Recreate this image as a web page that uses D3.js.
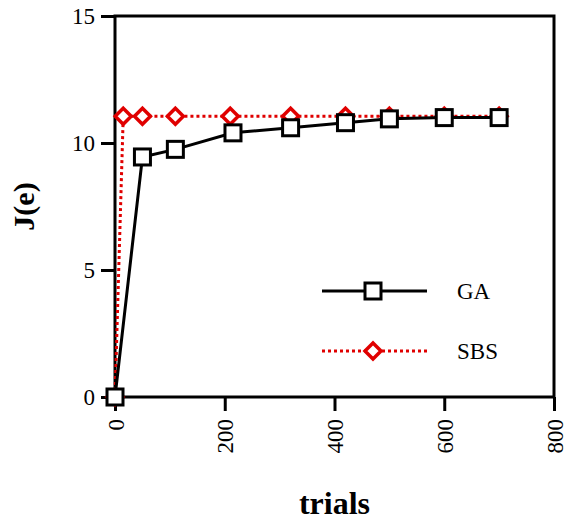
<!DOCTYPE html>
<html>
<head>
<meta charset="utf-8">
<script src="https://cdn.jsdelivr.net/npm/d3@7"></script>
<style>
	body { margin: 0; background: #fff; }
	text { font-family: "Liberation Serif", "DejaVu Serif", serif; }
</style>
</head>
<body>
<div id="chart"></div>
<script>
var gaTrials = [0, 50, 110, 215, 320, 420, 500, 600, 700];
var gaValues = [0, 9.45, 9.75, 10.4, 10.6, 10.8, 10.95, 11.0, 11.0];
var sbsTrials = [0, 15, 50, 110, 210, 320, 420, 500, 600, 700];
var sbsValues = [0, 11.05, 11.05, 11.05, 11.05, 11.05, 11.05, 11.05, 11.05, 11.05];
var xTicks = [0, 200, 400, 600, 800];
var yTicks = [0, 5, 10, 15];
var seriesNames = ['GA', 'SBS'];

var width = 569, height = 520;
var margin = {top: 16, right: 15, bottom: 123, left: 115};
var red = '#e00000';

var svg = d3.select('#chart').append('svg')
	.attr('width', width)
	.attr('height', height);

var x = d3.scaleLinear().domain([0, 800]).range([margin.left, width - margin.right]);
var y = d3.scaleLinear().domain([0, 15]).range([height - margin.bottom, margin.top]);

// frame
svg.append('rect')
	.attr('x', x(0))
	.attr('y', y(15))
	.attr('width', x(800) - x(0))
	.attr('height', y(0) - y(15))
	.attr('fill', 'none')
	.attr('stroke', '#000')
	.attr('stroke-width', 3);

var xAxisG = svg.append('g')
	.attr('transform', 'translate(0,' + y(0) + ')')
	.call(d3.axisBottom(x).tickValues(xTicks).tickSize(14).tickSizeOuter(0));

xAxisG.selectAll('text')
	.attr('transform', 'rotate(-90)')
	.attr('text-anchor', 'end')
	.attr('x', -22)
	.attr('y', 0)
	.attr('dy', '0.35em');

var yAxisG = svg.append('g')
	.attr('transform', 'translate(' + x(0) + ',0)')
	.call(d3.axisLeft(y).tickValues(yTicks).tickSize(14).tickSizeOuter(0));

yAxisG.selectAll('text').attr('x', -20);

svg.selectAll('.domain').remove();
svg.selectAll('.tick line').attr('stroke', '#000').attr('stroke-width', 3);
svg.selectAll('.tick text')
	.attr('fill', '#000')
	.style('font-family', '"Liberation Serif", serif')
	.style('font-size', '23px');

// axis titles
svg.append('text')
	.attr('transform', 'translate(34,' + ((y(0) + y(15)) / 2) + ') rotate(-90)')
	.attr('text-anchor', 'middle')
	.style('font-size', '30px')
	.style('font-weight', 'bold')
	.text('J(e)');

svg.append('text')
	.attr('x', (x(0) + x(800)) / 2)
	.attr('y', 514)
	.attr('text-anchor', 'middle')
	.style('font-size', '32px')
	.style('font-weight', 'bold')
	.text('trials');

var line = d3.line()
	.x(function(d) { return x(d[0]); })
	.y(function(d) { return y(d[1]); });

var sbsData = sbsTrials.map(function(t, i) { return [t, sbsValues[i]]; });
var gaData = gaTrials.map(function(t, i) { return [t, gaValues[i]]; });

function diamond(g, cx, cy) {
	g.append('path')
		.attr('d', 'M' + cx + ',' + (cy - 8) + 'L' + (cx + 8) + ',' + cy + 'L' + cx + ',' + (cy + 8) + 'L' + (cx - 8) + ',' + cy + 'Z')
		.attr('fill', '#fff')
		.attr('stroke', red)
		.attr('stroke-width', 3.5);
}

function square(g, cx, cy) {
	g.append('rect')
		.attr('x', cx - 8)
		.attr('y', cy - 8)
		.attr('width', 16)
		.attr('height', 16)
		.attr('fill', '#fff')
		.attr('stroke', '#000')
		.attr('stroke-width', 3);
}

// SBS series
var sbsG = svg.append('g');
sbsG.append('path')
	.datum(sbsData)
	.attr('d', line)
	.attr('fill', 'none')
	.attr('stroke', red)
	.attr('stroke-width', 3)
	.attr('stroke-dasharray', '3,3');
sbsData.forEach(function(d) { diamond(sbsG, x(d[0]), y(d[1])); });

// GA series
var gaG = svg.append('g');
gaG.append('path')
	.datum(gaData)
	.attr('d', line)
	.attr('fill', 'none')
	.attr('stroke', '#000')
	.attr('stroke-width', 3);
gaData.forEach(function(d) { square(gaG, x(d[0]), y(d[1])); });

// legend
var legend = svg.append('g');
var legendY = [291, 351];
seriesNames.forEach(function(name, i) {
	var ly = legendY[i];
	var seg = legend.append('line')
		.attr('x1', 322).attr('x2', 427)
		.attr('y1', ly).attr('y2', ly)
		.attr('stroke-width', 3);
	if (i == 0) {
		seg.attr('stroke', '#000');
		square(legend, 373, ly);
	} else {
		seg.attr('stroke', red).attr('stroke-dasharray', '3,3');
		diamond(legend, 373, ly);
	}
	legend.append('text')
		.attr('x', 457)
		.attr('y', ly + 8)
		.style('font-size', '23px')
		.text(name);
});
</script>
</body>
</html>
